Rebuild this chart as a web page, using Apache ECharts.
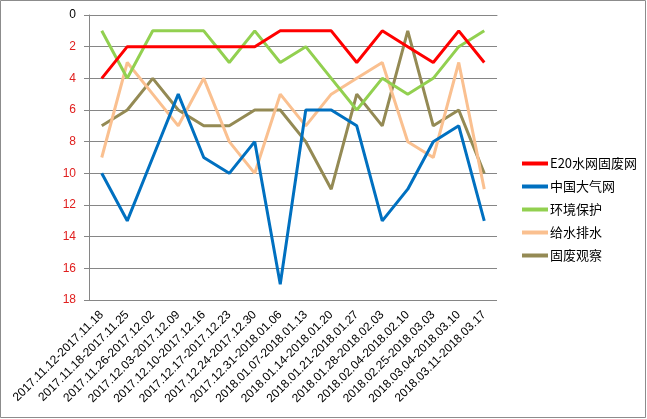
<!DOCTYPE html>
<html>
<head>
<meta charset="utf-8">
<script src="https://cdn.jsdelivr.net/npm/echarts@6/dist/echarts.min.js"></script>
<style>
html,body{margin:0;padding:0;background:#fff;}
#c{width:647px;height:419px;}
</style>
</head>
<body>
<div id="c"></div>
<script>
var categories = [
  '2017.11.12-2017.11.18','2017.11.18-2017.11.25','2017.11.26-2017.12.02','2017.12.03-2017.12.09',
  '2017.12.10-2017.12.16','2017.12.17-2017.12.23','2017.12.24-2017.12.30','2017.12.31-2018.01.06',
  '2018.01.07-2018.01.13','2018.01.14-2018.01.20','2018.01.21-2018.01.27','2018.01.28-2018.02.03',
  '2018.02.04-2018.02.10','2018.02.25-2018.03.03','2018.03.04-2018.03.10','2018.03.11-2018.03.17'
];
var seriesNames = ['E20水网固废网','中国大气网','环境保护','给水排水','固废观察'];
var e20 =     [4,2,2,2,2,2,2,1,1,1,3,1,2,3,1,3];
var daqi =    [10,13,9,5,9,10,8,17,6,6,7,13,11,8,7,13];
var huanjing =[1,4,1,1,1,3,1,3,2,4,6,4,5,4,2,1];
var geishui = [9,3,5,7,4,8,10,5,7,5,4,3,8,9,3,11];
var gufei =   [7,6,4,6,7,7,6,6,8,11,5,7,1,7,6,10];
var colors = ['#FF0000','#0070C0','#92D050','#FAC090','#948A54'];
var seriesData = [e20, daqi, huanjing, geishui, gufei];

var chart = echarts.init(document.getElementById('c'), null, {renderer:'canvas'});
var font = '"Liberation Sans", Arial, "Noto Sans CJK SC", sans-serif';
var series = seriesNames.map(function(n,i){
  return {
    name:n, type:'line', data:seriesData[i], symbol:'none',
    lineStyle:{color:colors[i], width:3}, itemStyle:{color:colors[i]},
    animation:false, z: 10 - i
  };
});
chart.setOption({
  animation:false,
  color:colors,
  graphic:[{type:'rect', shape:{x:0.5,y:0.5,width:645,height:417}, style:{fill:'none', stroke:'#8c8c8c', lineWidth:1}, z:-1}],
  grid:{left:89, top:15, width:408, height:285, containLabel:false},
  legend:{
    orient:'vertical', left:517, top:152,
    icon:'rect', itemWidth:26, itemHeight:4, itemGap:10,
    textStyle:{fontSize:13, color:'#000', fontFamily:'"Noto Sans CJK SC", sans-serif', padding:[0,0,0,-3]},
    data:seriesNames
  },
  xAxis:{
    type:'category', data:categories, boundaryGap:true,
    axisLine:{lineStyle:{color:'#868686'}},
    axisTick:{show:false},
    axisLabel:{rotate:45, interval:0, fontSize:12, color:'#000', margin:13, fontFamily:font}
  },
  yAxis:{
    type:'value', inverse:true, min:0, max:18, interval:2,
    axisLine:{show:true, lineStyle:{color:'#868686'}},
    axisTick:{show:true, length:5, lineStyle:{color:'#868686'}},
    splitLine:{lineStyle:{color:'#868686'}},
    axisLabel:{fontSize:12, margin:13, fontFamily:font,
      color:function(v){ return v == 0 ? '#000' : '#E0201F'; }}
  },
  series:series
});
</script>
</body>
</html>
